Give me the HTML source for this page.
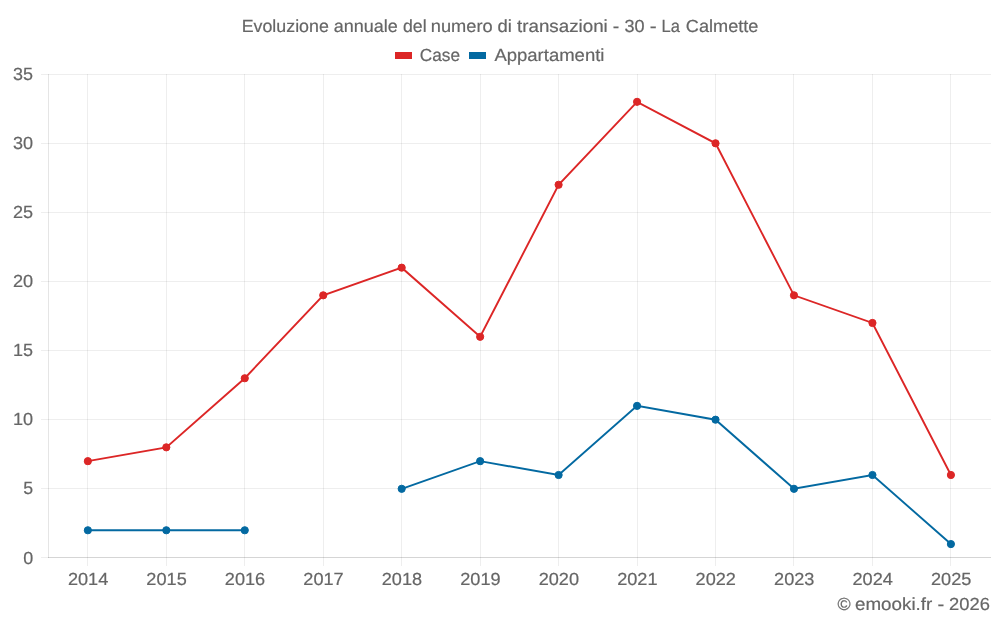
<!DOCTYPE html>
<html lang="it">
<head>
<meta charset="utf-8">
<title>Evoluzione annuale del numero di transazioni - 30 - La Calmette</title>
<style>
html,body{margin:0;padding:0;background:#ffffff;}
body{width:1000px;height:625px;overflow:hidden;}
svg{display:block;will-change:transform;}
text{font-family:"Liberation Sans",sans-serif;font-size:17.5px;fill:#666666;stroke:#666666;stroke-width:0.2px;text-rendering:geometricPrecision;}
</style>
</head>
<body>
<svg width="1000" height="625" viewBox="0 0 1000 625">
<rect x="0" y="0" width="1000" height="625" fill="#ffffff"/>

<g stroke="#000000" stroke-opacity="0.065" stroke-width="1" shape-rendering="crispEdges">
<line x1="87.5" y1="74.0" x2="87.5" y2="566.0"/>
<line x1="166.5" y1="74.0" x2="166.5" y2="566.0"/>
<line x1="244.5" y1="74.0" x2="244.5" y2="566.0"/>
<line x1="323.5" y1="74.0" x2="323.5" y2="566.0"/>
<line x1="401.5" y1="74.0" x2="401.5" y2="566.0"/>
<line x1="480.5" y1="74.0" x2="480.5" y2="566.0"/>
<line x1="558.5" y1="74.0" x2="558.5" y2="566.0"/>
<line x1="637.5" y1="74.0" x2="637.5" y2="566.0"/>
<line x1="715.5" y1="74.0" x2="715.5" y2="566.0"/>
<line x1="793.5" y1="74.0" x2="793.5" y2="566.0"/>
<line x1="872.5" y1="74.0" x2="872.5" y2="566.0"/>
<line x1="950.5" y1="74.0" x2="950.5" y2="566.0"/>
<line x1="41.0" y1="557.5" x2="991.0" y2="557.5"/>
<line x1="41.0" y1="488.5" x2="991.0" y2="488.5"/>
<line x1="41.0" y1="419.5" x2="991.0" y2="419.5"/>
<line x1="41.0" y1="350.5" x2="991.0" y2="350.5"/>
<line x1="41.0" y1="281.5" x2="991.0" y2="281.5"/>
<line x1="41.0" y1="212.5" x2="991.0" y2="212.5"/>
<line x1="41.0" y1="143.5" x2="991.0" y2="143.5"/>
<line x1="41.0" y1="74.5" x2="991.0" y2="74.5"/>
</g>
<g stroke="#000000" stroke-opacity="0.1" stroke-width="1" shape-rendering="crispEdges">
<line x1="48.5" y1="74.0" x2="48.5" y2="558.0"/>
<line x1="48.0" y1="557.5" x2="991.0" y2="557.5"/>
</g>
<g fill="#0369a1" stroke="#0369a1">
<polyline fill="none" stroke-width="1.9" stroke-linejoin="miter" points="87.85,530.26 166.31,530.26 244.77,530.26"/>
<polyline fill="none" stroke-width="1.9" stroke-linejoin="miter" points="401.69,488.80 480.15,461.16 558.61,474.98 637.07,405.88 715.53,419.70 793.99,488.80 872.45,474.98 950.91,544.08"/>
<circle cx="87.85" cy="530.26" r="3.6" stroke-width="1"/><circle cx="166.31" cy="530.26" r="3.6" stroke-width="1"/><circle cx="244.77" cy="530.26" r="3.6" stroke-width="1"/><circle cx="401.69" cy="488.80" r="3.6" stroke-width="1"/><circle cx="480.15" cy="461.16" r="3.6" stroke-width="1"/><circle cx="558.61" cy="474.98" r="3.6" stroke-width="1"/><circle cx="637.07" cy="405.88" r="3.6" stroke-width="1"/><circle cx="715.53" cy="419.70" r="3.6" stroke-width="1"/><circle cx="793.99" cy="488.80" r="3.6" stroke-width="1"/><circle cx="872.45" cy="474.98" r="3.6" stroke-width="1"/><circle cx="950.91" cy="544.08" r="3.6" stroke-width="1"/>
</g>
<g fill="#dc2626" stroke="#dc2626">
<polyline fill="none" stroke-width="1.9" stroke-linejoin="miter" points="87.85,461.16 166.31,447.34 244.77,378.24 323.23,295.32 401.69,267.68 480.15,336.78 558.61,184.76 637.07,101.84 715.53,143.30 793.99,295.32 872.45,322.96 950.91,474.98"/>
<circle cx="87.85" cy="461.16" r="3.6" stroke-width="1"/><circle cx="166.31" cy="447.34" r="3.6" stroke-width="1"/><circle cx="244.77" cy="378.24" r="3.6" stroke-width="1"/><circle cx="323.23" cy="295.32" r="3.6" stroke-width="1"/><circle cx="401.69" cy="267.68" r="3.6" stroke-width="1"/><circle cx="480.15" cy="336.78" r="3.6" stroke-width="1"/><circle cx="558.61" cy="184.76" r="3.6" stroke-width="1"/><circle cx="637.07" cy="101.84" r="3.6" stroke-width="1"/><circle cx="715.53" cy="143.30" r="3.6" stroke-width="1"/><circle cx="793.99" cy="295.32" r="3.6" stroke-width="1"/><circle cx="872.45" cy="322.96" r="3.6" stroke-width="1"/><circle cx="950.91" cy="474.98" r="3.6" stroke-width="1"/>
</g>
<text y="31.7"><tspan x="241.67" textLength="87.17" lengthAdjust="spacingAndGlyphs">Evoluzione</tspan> <tspan x="333.88" textLength="63.97" lengthAdjust="spacingAndGlyphs">annuale</tspan> <tspan x="402.99" textLength="23.61" lengthAdjust="spacingAndGlyphs">del</tspan> <tspan x="430.85" textLength="61.81" lengthAdjust="spacingAndGlyphs">numero</tspan> <tspan x="497.46" textLength="14.39" lengthAdjust="spacingAndGlyphs">di</tspan> <tspan x="516.99" textLength="90.78" lengthAdjust="spacingAndGlyphs">transazioni</tspan> <tspan x="612.82" textLength="6.49" lengthAdjust="spacingAndGlyphs">-</tspan> <tspan x="624.48" textLength="20.07" lengthAdjust="spacingAndGlyphs">30</tspan> <tspan x="649.87" textLength="6.89" lengthAdjust="spacingAndGlyphs">-</tspan> <tspan x="661.58" textLength="18.36" lengthAdjust="spacingAndGlyphs">La</tspan> <tspan x="685.87" textLength="72.59" lengthAdjust="spacingAndGlyphs">Calmette</tspan></text>
<rect x="395" y="52" width="17" height="7" fill="#dc2626"/>
<text y="60.6"><tspan x="419.81" textLength="40.21" lengthAdjust="spacingAndGlyphs">Case</tspan></text>
<rect x="469" y="52" width="17" height="7" fill="#0369a1"/>
<text y="60.6"><tspan x="494.40" textLength="110.05" lengthAdjust="spacingAndGlyphs">Appartamenti</tspan></text>
<text y="563.5"><tspan x="23.19" textLength="9.96" lengthAdjust="spacingAndGlyphs">0</tspan></text>
<text y="494.4"><tspan x="23.19" textLength="9.85" lengthAdjust="spacingAndGlyphs">5</tspan></text>
<text y="425.3"><tspan x="13.06" textLength="20.10" lengthAdjust="spacingAndGlyphs">10</tspan></text>
<text y="356.2"><tspan x="13.07" textLength="19.99" lengthAdjust="spacingAndGlyphs">15</tspan></text>
<text y="287.1"><tspan x="12.97" textLength="20.19" lengthAdjust="spacingAndGlyphs">20</tspan></text>
<text y="218.0"><tspan x="12.97" textLength="20.08" lengthAdjust="spacingAndGlyphs">25</tspan></text>
<text y="148.9"><tspan x="13.08" textLength="20.07" lengthAdjust="spacingAndGlyphs">30</tspan></text>
<text y="79.8"><tspan x="13.08" textLength="19.97" lengthAdjust="spacingAndGlyphs">35</tspan></text>
<text x="88.10" y="585.3" text-anchor="middle" textLength="40.35" lengthAdjust="spacingAndGlyphs">2014</text>
<text x="166.56" y="585.3" text-anchor="middle" textLength="40.35" lengthAdjust="spacingAndGlyphs">2015</text>
<text x="245.02" y="585.3" text-anchor="middle" textLength="40.35" lengthAdjust="spacingAndGlyphs">2016</text>
<text x="323.48" y="585.3" text-anchor="middle" textLength="40.35" lengthAdjust="spacingAndGlyphs">2017</text>
<text x="401.94" y="585.3" text-anchor="middle" textLength="40.35" lengthAdjust="spacingAndGlyphs">2018</text>
<text x="480.40" y="585.3" text-anchor="middle" textLength="40.35" lengthAdjust="spacingAndGlyphs">2019</text>
<text x="558.86" y="585.3" text-anchor="middle" textLength="40.35" lengthAdjust="spacingAndGlyphs">2020</text>
<text x="637.32" y="585.3" text-anchor="middle" textLength="40.35" lengthAdjust="spacingAndGlyphs">2021</text>
<text x="715.78" y="585.3" text-anchor="middle" textLength="40.35" lengthAdjust="spacingAndGlyphs">2022</text>
<text x="794.24" y="585.3" text-anchor="middle" textLength="40.35" lengthAdjust="spacingAndGlyphs">2023</text>
<text x="872.70" y="585.3" text-anchor="middle" textLength="40.35" lengthAdjust="spacingAndGlyphs">2024</text>
<text x="951.16" y="585.3" text-anchor="middle" textLength="40.35" lengthAdjust="spacingAndGlyphs">2025</text>
<text y="609.6"><tspan x="837.45" textLength="13.15" lengthAdjust="spacingAndGlyphs">©</tspan> <tspan x="855.05" textLength="77.20" lengthAdjust="spacingAndGlyphs">emooki.fr</tspan> <tspan x="937.49" textLength="6.75" lengthAdjust="spacingAndGlyphs">-</tspan> <tspan x="949.06" textLength="40.81" lengthAdjust="spacingAndGlyphs">2026</tspan></text>
</svg>
</body>
</html>
